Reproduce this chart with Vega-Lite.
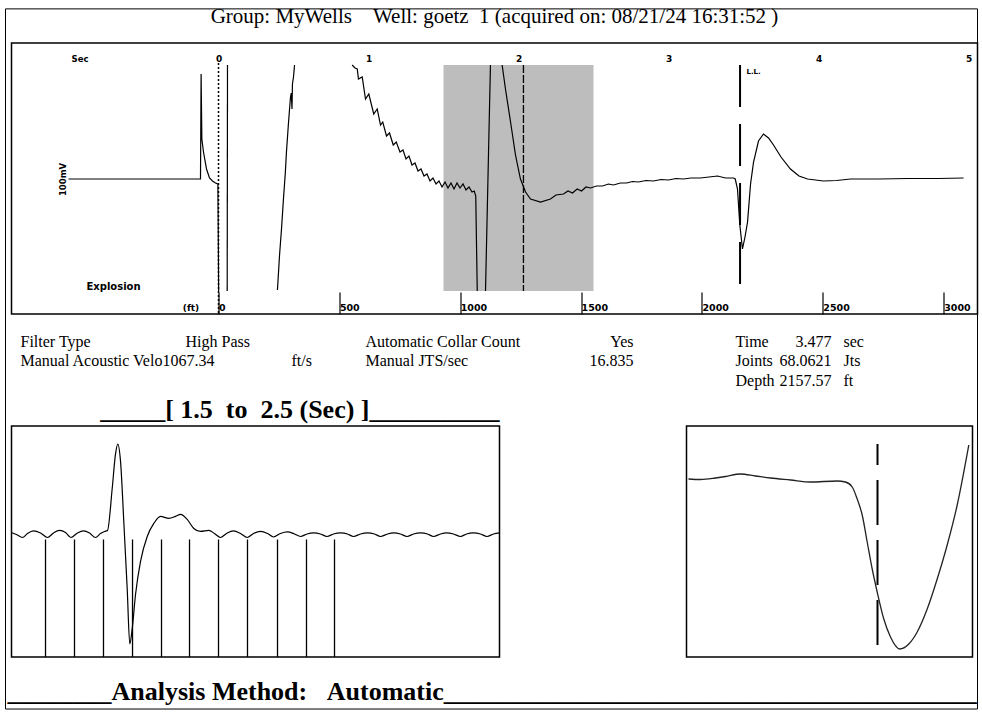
{
  "$schema": "https://vega.github.io/schema/vega-lite/v6.json",
  "background": "white",
  "padding": {"left": 4.5, "top": 5, "right": 0, "bottom": 0},
  "bounds": "flush",
  "spacing": 0,
  "config": {
    "view": {"stroke": "black", "strokeWidth": 1.5},
    "font": "Liberation Serif",
    "axis": {"labelColor": "black", "titleColor": "black", "grid": false},
    "title": {"color": "black"}
  },
  "title": {
    "text": "________Analysis Method:\u00a0\u00a0\u00a0Automatic_________________________________________",
    "orient": "bottom", "anchor": "start", "frame": "group", "dx": -4,
    "font": "Liberation Serif", "fontSize": 26, "fontWeight": "bold",
    "baseline": "top", "offset": -31
  },
  "datasets": {
    "top": [
      {"t": -1.0, "a": 0, "seg": 1}, {"t": -0.12, "a": 0, "seg": 1}, {"t": -0.116, "a": 105, "seg": 1}, {"t": -0.111, "a": 40, "seg": 1},
      {"t": -0.1, "a": 27, "seg": 1}, {"t": -0.08, "a": 10, "seg": 1}, {"t": -0.06, "a": 1, "seg": 1}, {"t": -0.04, "a": -2, "seg": 1},
      {"t": -0.02, "a": -4, "seg": 1}, {"t": -0.004, "a": -5, "seg": 1}, {"t": 0.001, "a": -112, "seg": 1},
      {"t": 0.058, "a": -112, "seg": 2}, {"t": 0.06, "a": 114, "seg": 2},
      {"t": 0.393, "a": -111, "seg": 3}, {"t": 0.407, "a": -76, "seg": 3}, {"t": 0.42, "a": -50, "seg": 3}, {"t": 0.433, "a": -20, "seg": 3},
      {"t": 0.445, "a": 5, "seg": 3}, {"t": 0.453, "a": 27, "seg": 3}, {"t": 0.467, "a": 57, "seg": 3}, {"t": 0.48, "a": 82, "seg": 3},
      {"t": 0.485, "a": 86, "seg": 3}, {"t": 0.49, "a": 70, "seg": 3}, {"t": 0.493, "a": 95, "seg": 3}, {"t": 0.5, "a": 102, "seg": 3}, {"t": 0.507, "a": 114, "seg": 3},
      {"t": 0.891, "a": 114, "seg": 4}, {"t": 0.91, "a": 111, "seg": 4}, {"t": 0.925, "a": 110, "seg": 4}, {"t": 0.933, "a": 100, "seg": 4},
      {"t": 0.958, "a": 102, "seg": 4}, {"t": 0.98, "a": 80, "seg": 4}, {"t": 1.002, "a": 85, "seg": 4}, {"t": 1.035, "a": 65, "seg": 4},
      {"t": 1.058, "a": 70, "seg": 4}, {"t": 1.08, "a": 54, "seg": 4}, {"t": 1.095, "a": 57, "seg": 4}, {"t": 1.12, "a": 43, "seg": 4},
      {"t": 1.14, "a": 46, "seg": 4}, {"t": 1.165, "a": 34, "seg": 4}, {"t": 1.185, "a": 37, "seg": 4}, {"t": 1.21, "a": 27, "seg": 4},
      {"t": 1.23, "a": 29, "seg": 4}, {"t": 1.25, "a": 20, "seg": 4}, {"t": 1.27, "a": 23, "seg": 4}, {"t": 1.29, "a": 14, "seg": 4},
      {"t": 1.31, "a": 16, "seg": 4}, {"t": 1.33, "a": 8, "seg": 4}, {"t": 1.35, "a": 10, "seg": 4}, {"t": 1.37, "a": 3, "seg": 4},
      {"t": 1.39, "a": 5, "seg": 4}, {"t": 1.41, "a": -2, "seg": 4}, {"t": 1.43, "a": 1, "seg": 4}, {"t": 1.45, "a": -5, "seg": 4},
      {"t": 1.47, "a": -2, "seg": 4}, {"t": 1.49, "a": -8, "seg": 4}, {"t": 1.51, "a": -3, "seg": 4}, {"t": 1.53, "a": -9, "seg": 4},
      {"t": 1.55, "a": -4, "seg": 4}, {"t": 1.57, "a": -10, "seg": 4}, {"t": 1.59, "a": -4, "seg": 4}, {"t": 1.61, "a": -9, "seg": 4},
      {"t": 1.63, "a": -5, "seg": 4}, {"t": 1.65, "a": -11, "seg": 4}, {"t": 1.67, "a": -8, "seg": 4}, {"t": 1.69, "a": -13, "seg": 4},
      {"t": 1.705, "a": -12, "seg": 4}, {"t": 1.715, "a": -17, "seg": 4}, {"t": 1.725, "a": -112, "seg": 4},
      {"t": 1.78, "a": -112, "seg": 5}, {"t": 1.813, "a": 114, "seg": 5},
      {"t": 1.891, "a": 114, "seg": 6}, {"t": 1.913, "a": 90, "seg": 6}, {"t": 1.947, "a": 57, "seg": 6}, {"t": 1.98, "a": 24, "seg": 6},
      {"t": 2.013, "a": 0, "seg": 6}, {"t": 2.047, "a": -13, "seg": 6}, {"t": 2.08, "a": -20, "seg": 6}, {"t": 2.147, "a": -23, "seg": 6},
      {"t": 2.213, "a": -20, "seg": 6}, {"t": 2.25, "a": -16, "seg": 6}, {"t": 2.3, "a": -15, "seg": 6}, {"t": 2.33, "a": -12, "seg": 6},
      {"t": 2.36, "a": -14, "seg": 6}, {"t": 2.391, "a": -10, "seg": 6}, {"t": 2.42, "a": -12, "seg": 6}, {"t": 2.45, "a": -8, "seg": 6},
      {"t": 2.48, "a": -9, "seg": 6}, {"t": 2.52, "a": -7, "seg": 6}, {"t": 2.56, "a": -7, "seg": 6}, {"t": 2.6, "a": -5, "seg": 6},
      {"t": 2.633, "a": -6, "seg": 6}, {"t": 2.68, "a": -4, "seg": 6}, {"t": 2.72, "a": -4, "seg": 6}, {"t": 2.76, "a": -2.5, "seg": 6},
      {"t": 2.8, "a": -3, "seg": 6}, {"t": 2.85, "a": -1.5, "seg": 6}, {"t": 2.9, "a": -2, "seg": 6}, {"t": 2.95, "a": -0.5, "seg": 6},
      {"t": 3.0, "a": -1, "seg": 6}, {"t": 3.05, "a": 0.5, "seg": 6}, {"t": 3.1, "a": 0, "seg": 6}, {"t": 3.15, "a": 1, "seg": 6},
      {"t": 3.213, "a": 1, "seg": 6}, {"t": 3.27, "a": 2, "seg": 6}, {"t": 3.327, "a": 3, "seg": 6}, {"t": 3.38, "a": 1, "seg": 6},
      {"t": 3.433, "a": 1, "seg": 6}, {"t": 3.445, "a": 0, "seg": 6}, {"t": 3.46, "a": -10, "seg": 6}, {"t": 3.475, "a": -45, "seg": 6},
      {"t": 3.493, "a": -70, "seg": 6}, {"t": 3.51, "a": -58, "seg": 6}, {"t": 3.527, "a": -43, "seg": 6}, {"t": 3.547, "a": -5, "seg": 6},
      {"t": 3.567, "a": 17, "seg": 6}, {"t": 3.6, "a": 38, "seg": 6}, {"t": 3.633, "a": 45, "seg": 6}, {"t": 3.667, "a": 41, "seg": 6},
      {"t": 3.7, "a": 34, "seg": 6}, {"t": 3.75, "a": 22, "seg": 6}, {"t": 3.813, "a": 10, "seg": 6}, {"t": 3.87, "a": 3, "seg": 6},
      {"t": 3.927, "a": 0, "seg": 6}, {"t": 4.033, "a": -2, "seg": 6}, {"t": 4.12, "a": -1.5, "seg": 6}, {"t": 4.213, "a": 0, "seg": 6},
      {"t": 4.4, "a": 0, "seg": 6}, {"t": 4.6, "a": 0.5, "seg": 6}, {"t": 4.8, "a": 0.5, "seg": 6}, {"t": 4.967, "a": 1, "seg": 6}
    ],
    "zoomL": [
      {"t": 1.5, "a": 4}, {"t": 1.5102, "a": 2}, {"t": 1.5225, "a": -1}, {"t": 1.5328, "a": 3}, {"t": 1.5451, "a": 5.5},
      {"t": 1.5594, "a": 3.5}, {"t": 1.5738, "a": -1}, {"t": 1.5861, "a": 3.5}, {"t": 1.5984, "a": 6}, {"t": 1.6107, "a": 4},
      {"t": 1.6219, "a": -1}, {"t": 1.6352, "a": 3.5}, {"t": 1.6475, "a": 5.5}, {"t": 1.6598, "a": 3.5}, {"t": 1.6721, "a": -1},
      {"t": 1.6824, "a": 3}, {"t": 1.6906, "a": 5}, {"t": 1.6967, "a": 6}, {"t": 1.7064, "a": 48}, {"t": 1.7131, "a": 82},
      {"t": 1.7178, "a": 92}, {"t": 1.7234, "a": 75}, {"t": 1.7301, "a": 15}, {"t": 1.7371, "a": -52}, {"t": 1.7424, "a": -107},
      {"t": 1.7473, "a": -92}, {"t": 1.7541, "a": -58}, {"t": 1.7643, "a": -25}, {"t": 1.7781, "a": 0}, {"t": 1.7916, "a": 13},
      {"t": 1.8053, "a": 20}, {"t": 1.8223, "a": 18}, {"t": 1.8361, "a": 20}, {"t": 1.8463, "a": 22}, {"t": 1.86, "a": 17},
      {"t": 1.8736, "a": 8}, {"t": 1.8873, "a": 5}, {"t": 1.9043, "a": 6}, {"t": 1.916, "a": 3}, {"t": 1.9283, "a": -1},
      {"t": 1.9406, "a": 3}, {"t": 1.9549, "a": 5.5}, {"t": 1.9693, "a": 3}, {"t": 1.983, "a": -1}, {"t": 1.9959, "a": 3},
      {"t": 2.0102, "a": 5}, {"t": 2.0246, "a": 3}, {"t": 2.0369, "a": -0.5}, {"t": 2.0512, "a": 3}, {"t": 2.0656, "a": 4.5},
      {"t": 2.0799, "a": 2.5}, {"t": 2.0922, "a": 0}, {"t": 2.1055, "a": 2.5}, {"t": 2.1189, "a": 3.5}, {"t": 2.1332, "a": 2.5},
      {"t": 2.1465, "a": 0}, {"t": 2.1598, "a": 2.5}, {"t": 2.1742, "a": 3.5}, {"t": 2.1885, "a": 2.5}, {"t": 2.2008, "a": 0},
      {"t": 2.2152, "a": 2.5}, {"t": 2.2295, "a": 3.5}, {"t": 2.2439, "a": 2.5}, {"t": 2.2561, "a": 0}, {"t": 2.2705, "a": 2.5},
      {"t": 2.2828, "a": 3.5}, {"t": 2.2971, "a": 2.5}, {"t": 2.3105, "a": 0}, {"t": 2.3238, "a": 2.5}, {"t": 2.3381, "a": 3.5},
      {"t": 2.3525, "a": 2.5}, {"t": 2.3648, "a": 0}, {"t": 2.3791, "a": 2.5}, {"t": 2.3914, "a": 3.5}, {"t": 2.4057, "a": 2.5},
      {"t": 2.4201, "a": 0}, {"t": 2.4324, "a": 2.5}, {"t": 2.4467, "a": 3.5}, {"t": 2.4611, "a": 2.5}, {"t": 2.4744, "a": 0},
      {"t": 2.4877, "a": 2.5}, {"t": 2.5, "a": 3.5}
    ],
    "joints": [
      {"t": 1.5697}, {"t": 1.6291}, {"t": 1.6885}, {"t": 1.748}, {"t": 1.8074}, {"t": 1.8648},
      {"t": 1.9242}, {"t": 1.9836}, {"t": 2.0451}, {"t": 2.1045}, {"t": 2.1619}
    ],
    "zoomR": [
      {"t": 3.288, "a": 63}, {"t": 3.3, "a": 62.5}, {"t": 3.315, "a": 64}, {"t": 3.325, "a": 65.5}, {"t": 3.34, "a": 68},
      {"t": 3.355, "a": 66}, {"t": 3.37, "a": 64}, {"t": 3.39, "a": 62}, {"t": 3.41, "a": 60}, {"t": 3.4367, "a": 61},
      {"t": 3.445, "a": 60}, {"t": 3.4517, "a": 55}, {"t": 3.4567, "a": 43}, {"t": 3.4617, "a": 27}, {"t": 3.4667, "a": 0},
      {"t": 3.4717, "a": -27}, {"t": 3.4767, "a": -50}, {"t": 3.4833, "a": -77}, {"t": 3.49, "a": -95}, {"t": 3.4993, "a": -107},
      {"t": 3.5083, "a": -102}, {"t": 3.5167, "a": -90}, {"t": 3.5267, "a": -67}, {"t": 3.5367, "a": -37}, {"t": 3.5467, "a": -3},
      {"t": 3.5567, "a": 37}, {"t": 3.5683, "a": 97}
    ],
    "info": [
      {"label": "Filter Type", "x": 9, "row": 1, "al": "l"},
      {"label": "High Pass", "x": 174, "row": 1, "al": "l"},
      {"label": "Automatic Collar Count", "x": 354, "row": 1, "al": "l"},
      {"label": "Yes", "x": 622, "row": 1, "al": "r"},
      {"label": "Time", "x": 724, "row": 1, "al": "l"},
      {"label": "3.477", "x": 820, "row": 1, "al": "r"},
      {"label": "sec", "x": 832, "row": 1, "al": "l"},
      {"label": "Manual Acoustic Velo1067.34", "x": 9, "row": 2, "al": "l"},
      {"label": "ft/s", "x": 280, "row": 2, "al": "l"},
      {"label": "Manual JTS/sec", "x": 354, "row": 2, "al": "l"},
      {"label": "16.835", "x": 622, "row": 2, "al": "r"},
      {"label": "Joints", "x": 724, "row": 2, "al": "l"},
      {"label": "68.0621", "x": 820, "row": 2, "al": "r"},
      {"label": "Jts", "x": 832, "row": 2, "al": "l"},
      {"label": "Depth", "x": 724, "row": 3, "al": "l"},
      {"label": "2157.57", "x": 820, "row": 3, "al": "r"},
      {"label": "ft", "x": 832, "row": 3, "al": "l"}
    ]
  },
  "vconcat": [
    {
      "width": 966,
      "height": 271,
      "title": {
        "text": "Group: MyWells\u00a0\u00a0\u00a0\u00a0Well: goetz\u00a0\u00a01 (acquired on: 08/21/24 16:31:52 )",
        "font": "Liberation Serif", "fontSize": 21, "fontWeight": "normal",
        "anchor": "middle", "frame": "group", "baseline": "alphabetic", "offset": -1
      },
      "layer": [
        {
          "layer": [
            {
              "data": {"values": [{"t": 1.5, "t2": 2.5, "a": -112, "a2": 114}]},
              "mark": {"type": "rect", "color": "#bdbdbd"},
              "encoding": {
                "x": {
                  "field": "t", "type": "quantitative",
                  "scale": {"domain": [-1.38, 5.06], "nice": false, "zero": false},
                  "axis": {
                    "orient": "top", "values": [0, 1, 2, 3, 4, 5], "format": "d",
                    "ticks": false, "domain": false, "labelPadding": -15, "labelBaseline": "middle",
                    "labelFont": "DejaVu Sans", "labelFontSize": 9, "labelFontWeight": "bold",
                    "title": "Sec", "titleX": 68, "titleY": 15, "titleAlign": "center", "titleBaseline": "middle",
                    "titleFont": "DejaVu Sans", "titleFontSize": 8.5, "titleFontWeight": "bold"
                  }
                },
                "x2": {"field": "t2"},
                "y": {
                  "field": "a", "type": "quantitative",
                  "scale": {"domain": [-135, 136], "nice": false, "zero": false},
                  "axis": {
                    "labels": false, "ticks": false, "domain": false,
                    "title": "100mV", "titleX": 51, "titleY": 136, "titleAngle": 270,
                    "titleAlign": "center", "titleBaseline": "middle",
                    "titleFont": "DejaVu Sans", "titleFontSize": 8.5, "titleFontWeight": "bold"
                  }
                },
                "y2": {"field": "a2"}
              }
            },
            {
              "data": {"values": [{"t": 0, "a": 116, "a2": -135}]},
              "mark": {"type": "rule", "color": "black", "strokeWidth": 1.5, "strokeDash": [2, 2]},
              "encoding": {"x": {"field": "t", "type": "quantitative"}, "y": {"field": "a", "type": "quantitative"}, "y2": {"field": "a2"}}
            },
            {
              "data": {"values": [{"t": 2.033, "a": 114, "a2": -112}]},
              "mark": {"type": "rule", "color": "black", "strokeWidth": 1.3, "strokeDash": [8, 2]},
              "encoding": {"x": {"field": "t", "type": "quantitative"}, "y": {"field": "a", "type": "quantitative"}, "y2": {"field": "a2"}}
            },
            {
              "data": {"values": [{"t": 3.477, "a": 114, "a2": -112}]},
              "mark": {"type": "rule", "color": "black", "strokeWidth": 2, "strokeDash": [42, 17]},
              "encoding": {"x": {"field": "t", "type": "quantitative"}, "y": {"field": "a", "type": "quantitative"}, "y2": {"field": "a2"}}
            },
            {
              "data": {"name": "top"},
              "mark": {"type": "line", "color": "black", "strokeWidth": 1.2},
              "encoding": {
                "x": {"field": "t", "type": "quantitative"},
                "y": {"field": "a", "type": "quantitative"},
                "detail": {"field": "seg", "type": "nominal"}
              }
            },
            {
              "data": {"values": [{"t": -0.7, "a": -108, "label": "Explosion"}]},
              "mark": {"type": "text", "font": "DejaVu Sans", "fontSize": 10, "fontWeight": "bold", "color": "black", "align": "center", "baseline": "middle"},
              "encoding": {"x": {"field": "t", "type": "quantitative"}, "y": {"field": "a", "type": "quantitative"}, "text": {"field": "label"}}
            },
            {
              "data": {"values": [{"t": 3.52, "a": 107, "label": "L.L."}]},
              "mark": {"type": "text", "font": "DejaVu Sans", "fontSize": 7, "fontWeight": "bold", "color": "black", "align": "left", "baseline": "middle"},
              "encoding": {"x": {"field": "t", "type": "quantitative"}, "y": {"field": "a", "type": "quantitative"}, "text": {"field": "label"}}
            }
          ]
        },
        {
          "data": {"values": [{"ft": 0}]},
          "mark": {"type": "point", "opacity": 0},
          "encoding": {
            "x": {
              "field": "ft", "type": "quantitative",
              "scale": {"domain": [-856.5, 3140], "nice": false, "zero": false},
              "axis": {
                "orient": "bottom", "offset": -22, "values": [0, 500, 1000, 1500, 2000, 2500, 3000], "format": "d",
                "domain": false, "ticks": true, "tickSize": 22, "tickColor": "black", "tickWidth": 1.2,
                "labelAlign": "left", "labelDx": 4, "labelPadding": -7, "labelBaseline": "middle",
                "labelFont": "DejaVu Sans", "labelFontSize": 9.5, "labelFontWeight": "bold", "labelFlush": false, "labelOverlap": false,
                "title": "(ft)", "titleX": 179, "titleY": 15, "titleAlign": "center", "titleBaseline": "middle",
                "titleFont": "DejaVu Sans", "titleFontSize": 9, "titleFontWeight": "bold"
              }
            }
          }
        }
      ],
      "resolve": {"scale": {"x": "independent"}}
    },
    {
      "width": 966,
      "height": 112,
      "view": {"stroke": null},
      "layer": [
        {
          "data": {"values": [{"x": -6, "x2": 966, "row": -16.09, "row2": 19.83}]},
          "mark": {"type": "rect", "filled": false, "stroke": "black", "strokeWidth": 1},
          "encoding": {
            "x": {"field": "x", "type": "quantitative", "scale": {"domain": [0, 966], "nice": false, "zero": false}, "axis": null},
            "x2": {"field": "x2"},
            "y": {"field": "row", "type": "quantitative", "scale": {"domain": [-0.436, 5.31], "nice": false, "zero": false, "reverse": true}, "axis": null},
            "y2": {"field": "row2"}
          }
        },
        {
          "data": {"name": "info"},
          "transform": [{"filter": "datum.al == 'l'"}],
          "mark": {"type": "text", "align": "left", "baseline": "middle", "font": "Liberation Serif", "fontSize": 16, "color": "black"},
          "encoding": {
            "x": {"field": "x", "type": "quantitative"},
            "y": {"field": "row", "type": "quantitative"},
            "text": {"field": "label"}
          }
        },
        {
          "data": {"name": "info"},
          "transform": [{"filter": "datum.al == 'r'"}],
          "mark": {"type": "text", "align": "right", "baseline": "middle", "font": "Liberation Serif", "fontSize": 16, "color": "black"},
          "encoding": {
            "x": {"field": "x", "type": "quantitative"},
            "y": {"field": "row", "type": "quantitative"},
            "text": {"field": "label"}
          }
        }
      ]
    },
    {
      "bounds": "flush",
      "spacing": 187,
      "hconcat": [
        {
          "width": 488,
          "height": 231,
          "title": {
            "text": "_____[\u00a01.5\u00a0\u00a0to\u00a0\u00a02.5\u00a0(Sec)\u00a0]__________",
            "anchor": "end", "frame": "group", "font": "Liberation Serif", "fontSize": 26, "fontWeight": "bold",
            "baseline": "alphabetic", "offset": -18
          },
          "layer": [
            {
              "data": {"name": "zoomL"},
              "mark": {"type": "line", "color": "black", "strokeWidth": 1.2, "interpolate": "monotone"},
              "encoding": {
                "x": {"field": "t", "type": "quantitative", "scale": {"domain": [1.5, 2.5], "nice": false, "zero": false}, "axis": null},
                "y": {"field": "a", "type": "quantitative", "scale": {"domain": [-120, 110], "nice": false, "zero": false}, "axis": null}
              }
            },
            {
              "data": {"name": "joints"},
              "mark": {"type": "rule", "color": "black", "strokeWidth": 1.3},
              "encoding": {
                "x": {"field": "t", "type": "quantitative"},
                "y": {"datum": -3, "type": "quantitative"},
                "y2": {"datum": -120}
              }
            }
          ]
        },
        {
          "width": 286,
          "height": 231,
          "layer": [
            {
              "data": {"name": "zoomR"},
              "mark": {"type": "line", "color": "#222222", "strokeWidth": 1.3, "interpolate": "monotone"},
              "encoding": {
                "x": {"field": "t", "type": "quantitative", "scale": {"domain": [3.286, 3.572], "nice": false, "zero": false}, "axis": null},
                "y": {"field": "a", "type": "quantitative", "scale": {"domain": [-115, 116], "nice": false, "zero": false}, "axis": null}
              }
            },
            {
              "data": {"values": [{"t": 3.477}]},
              "mark": {"type": "rule", "color": "black", "strokeWidth": 2, "strokeDash": [45, 15], "strokeDashOffset": 24},
              "encoding": {
                "x": {"field": "t", "type": "quantitative"},
                "y": {"datum": 98, "type": "quantitative"},
                "y2": {"datum": -107}
              }
            }
          ]
        }
      ]
    }
  ]
}
